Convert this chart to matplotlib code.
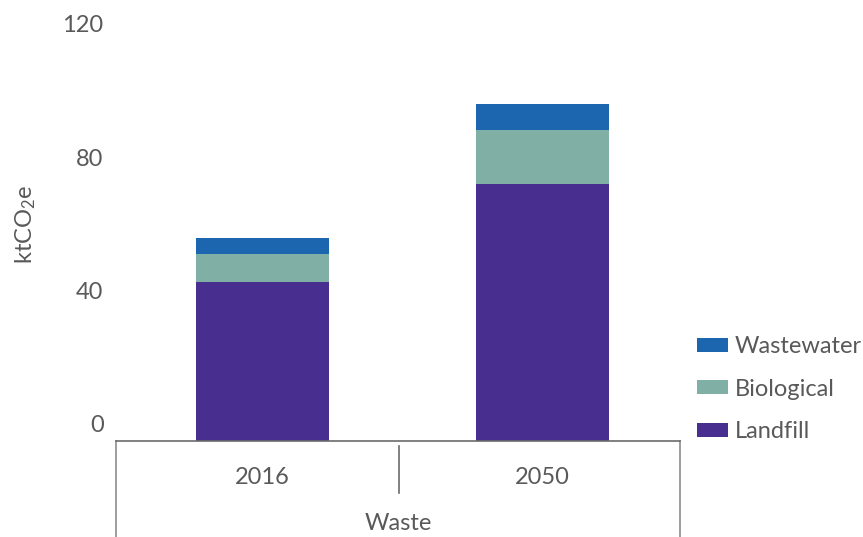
import matplotlib
matplotlib.use("Agg")
import matplotlib.pyplot as plt
from matplotlib.transforms import ScaledTranslation
import numpy as np

plt.rcParams['font.family'] = ['Lato', 'DejaVu Sans']
plt.rcParams['mathtext.default'] = 'regular'

categories = ["2016", "2050"]
group_label = "Waste"
series_names = ["Landfill", "Biological", "Wastewater"]
landfill = [47.6, 77.0]
biological = [8.4, 16.2]
wastewater = [4.8, 7.8]
colors = ["#482E8F", "#80AFA5", "#1B66AE"]
yticks = [0, 40, 80, 120]

W, H = 863, 537
fig = plt.figure(figsize=(W / 100, H / 100), dpi=100)
ax = fig.add_axes([116 / W, 1 - 441 / H, (680 - 116) / W, (441 - 40.5) / H])

x = np.arange(len(categories))
bw = 0.475
bottom = np.zeros(len(categories))
for name, vals, c in zip(series_names, [landfill, biological, wastewater], colors):
    ax.bar(x, vals, bw, bottom=bottom, color=c, label=name, zorder=2)
    bottom += np.array(vals)

x0, x1 = (116 - 262.5) / 280, (680 - 262.5) / 280
ax.set_xlim(x0, x1)
ax.set_ylim(0, 120)
ax.set_yticks(yticks)
ax.set_yticklabels([str(t) for t in yticks])
ax.tick_params(axis='y', length=0, pad=9, labelsize=17, labelcolor='#595959')
offset = ScaledTranslation(0, 0.17, fig.dpi_scale_trans)
for lab in ax.get_yticklabels():
    lab.set_transform(lab.get_transform() + offset)
ax.set_xticks([])
for s in ['left', 'right', 'top']:
    ax.spines[s].set_visible(False)
ax.spines['bottom'].set_color('#6b6b6b')
ax.spines['bottom'].set_linewidth(1.2)

ax.set_ylabel("ktCO$_2$e", fontsize=17, color='#595959')
ax.yaxis.set_label_coords((38 - 116) / 564, (441 - 224) / 400.5)

tr = ax.get_xaxis_transform()
ybot = (441 - 537) / 400.5
for xv in [x0, x1]:
    ax.plot([xv, xv], [0, ybot], transform=tr, color='#8c8c8c', lw=1.2, clip_on=False)
xm = (399 - 262.5) / 280
ax.plot([xm, xm], [(441 - 446) / 400.5, (441 - 493) / 400.5], transform=tr,
        color='#6b6b6b', lw=1.2, clip_on=False)
for xv, cat in zip(x, categories):
    ax.text(xv, (441 - 477) / 400.5, cat, transform=tr, ha='center', va='center',
            fontsize=17, color='#595959')
ax.text((x0 + x1) / 2, (441 - 523) / 400.5, group_label, transform=tr, ha='center', va='center',
        fontsize=17, color='#595959')

handles, labels = ax.get_legend_handles_labels()
leg = fig.legend(handles[::-1], labels[::-1], loc='upper left',
                 bbox_to_anchor=(697 / W, 1 - 336 / H), frameon=False,
                 fontsize=17, handlelength=1.31, handleheight=0.55,
                 handletextpad=0.3, labelspacing=0.92, borderpad=0, borderaxespad=0)
for t in leg.get_texts():
    t.set_color('#595959')

fig.savefig("out.png", dpi=100)
